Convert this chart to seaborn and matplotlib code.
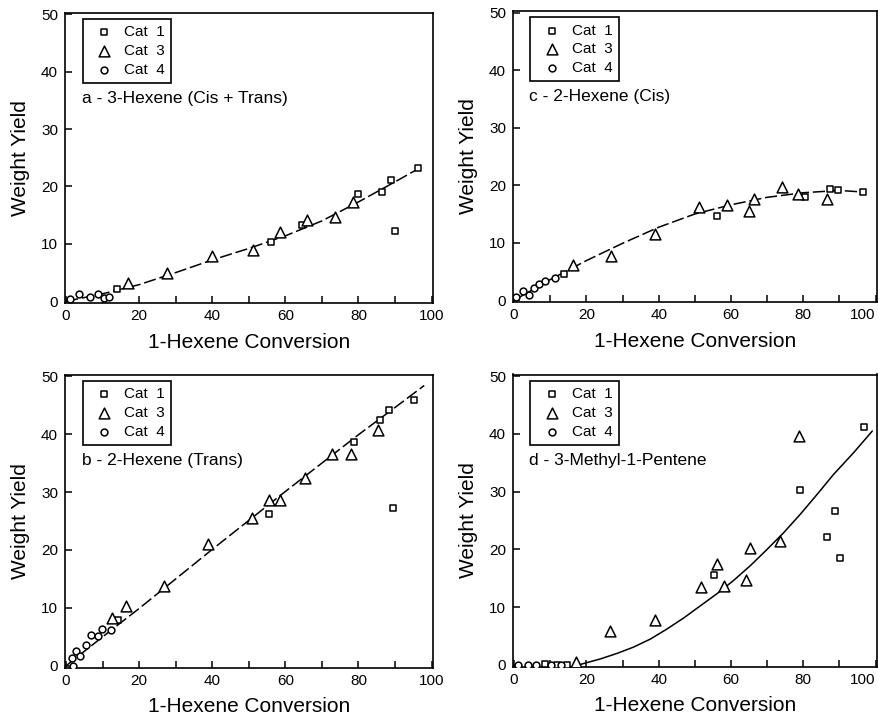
import matplotlib
matplotlib.use("Agg")
import matplotlib.pyplot as plt
import pandas as pd
import seaborn as sns

# ---- data ----
# a - 3-Hexene (Cis + Trans)
a_cat1_x = [14.0, 56.0, 64.5, 79.8, 86.4, 89.0, 90.0, 96.2]
a_cat1_y = [2.1, 10.3, 13.2, 18.6, 19.1, 21.2, 12.3, 23.2]
a_cat3_x = [17.0, 27.5, 39.8, 51.1, 58.4, 65.9, 73.7, 78.4]
a_cat3_y = [3.1, 5.0, 7.8, 9.0, 12.0, 14.1, 14.7, 17.3]
a_cat4_x = [1.1, 3.6, 6.6, 8.7, 10.5, 11.8]
a_cat4_y = [0.4, 1.2, 0.75, 1.3, 0.5, 0.7]
a_fit_x = [0, 10, 20, 30, 40, 50, 60, 70, 80, 90, 97]
a_fit_y = [0, 1.3, 2.9, 5.0, 7.2, 9.2, 11.4, 14.0, 17.3, 20.8, 23.3]

# b - 2-Hexene (Trans)
b_cat1_x = [14.1, 55.4, 78.9, 85.9, 88.3, 89.5, 95.3]
b_cat1_y = [7.9, 26.2, 38.7, 42.4, 44.1, 27.2, 45.9]
b_cat3_x = [12.6, 16.3, 26.8, 38.9, 50.9, 55.5, 58.4, 65.3, 72.8, 78.0, 85.3]
b_cat3_y = [8.2, 10.3, 13.7, 21.0, 25.6, 28.6, 28.6, 32.5, 36.5, 36.5, 40.8]
b_cat4_x = [1.5, 2.0, 2.7, 3.8, 5.5, 6.7, 8.6, 9.7, 12.2]
b_cat4_y = [1.4, 0.0, 2.5, 1.7, 3.6, 5.3, 5.1, 6.3, 6.1]
b_fit_x = [0, 10, 20, 30, 40, 50, 60, 70, 80, 90, 98]
b_fit_y = [0, 5.0, 9.9, 15.0, 20.1, 25.1, 30.1, 35.0, 39.9, 44.6, 48.4]

# c - 2-Hexene (Cis)
c_cat1_x = [13.9, 56.0, 80.6, 87.3, 89.6, 96.6]
c_cat1_y = [4.5, 14.7, 17.9, 19.4, 19.1, 18.8]
c_cat3_x = [16.3, 26.9, 39.1, 51.1, 58.9, 64.9, 66.3, 74.1, 78.5, 86.6]
c_cat3_y = [6.2, 7.7, 11.6, 16.3, 16.5, 15.6, 17.6, 19.7, 18.4, 17.6]
c_cat4_x = [0.6, 2.4, 4.0, 5.4, 7.0, 8.6, 11.4]
c_cat4_y = [0.6, 1.6, 1.0, 2.2, 2.9, 3.3, 3.9]
c_fit_x = [0, 10, 20, 30, 40, 50, 60, 70, 80, 90, 97]
c_fit_y = [0, 3.6, 6.9, 9.9, 12.7, 15.0, 16.6, 17.9, 18.7, 19.1, 18.8]

# d - 3-Methyl-1-Pentene
d_cat1_x = [8.5, 11.8, 14.6, 55.2, 79.0, 86.6, 88.9, 90.3, 96.8]
d_cat1_y = [0.1, 0.0, 0.0, 15.5, 30.3, 22.2, 26.7, 18.5, 41.2]
d_cat3_x = [17.2, 26.6, 38.9, 51.8, 56.1, 58.2, 64.2, 65.2, 73.5, 78.8]
d_cat3_y = [0.4, 5.9, 7.75, 13.5, 17.4, 13.7, 14.7, 20.2, 21.4, 39.7]
d_cat4_x = [1.2, 3.8, 6.1, 10.2, 13.0]
d_cat4_y = [0.0, 0.0, 0.0, 0.0, 0.0]
d_fit_x = [18, 23.8, 28.4, 33.0, 37.7, 42.3, 46.9, 51.5, 56.1, 60.7, 65.4, 70.0,
           74.6, 79.2, 83.8, 88.4, 94.0, 99.1]
d_fit_y = [0, 1.0, 1.95, 3.05, 4.45, 6.2, 8.1, 10.2, 12.3, 14.6, 17.2, 20.0,
           22.9, 26.1, 29.5, 33.0, 36.8, 40.5]

x_ticks = [0, 20, 40, 60, 80, 100]
x_minor = [10, 30, 50, 70, 90]
y_ticks = [0, 10, 20, 30, 40, 50]

cat_labels = ["Cat  1", "Cat  3", "Cat  4"]
cat_markers = {"Cat  1": "s", "Cat  3": "^", "Cat  4": "o"}
cat_sizes = {"Cat  1": 24, "Cat  3": 60, "Cat  4": 24}

panels = [
    ("a - 3-Hexene (Cis + Trans)", [(a_cat1_x, a_cat1_y), (a_cat3_x, a_cat3_y), (a_cat4_x, a_cat4_y)],
     a_fit_x, a_fit_y, True),
    ("c - 2-Hexene (Cis)", [(c_cat1_x, c_cat1_y), (c_cat3_x, c_cat3_y), (c_cat4_x, c_cat4_y)],
     c_fit_x, c_fit_y, True),
    ("b - 2-Hexene (Trans)", [(b_cat1_x, b_cat1_y), (b_cat3_x, b_cat3_y), (b_cat4_x, b_cat4_y)],
     b_fit_x, b_fit_y, True),
    ("d - 3-Methyl-1-Pentene", [(d_cat1_x, d_cat1_y), (d_cat3_x, d_cat3_y), (d_cat4_x, d_cat4_y)],
     d_fit_x, d_fit_y, False),
]

sns.set_theme(style="ticks")
plt.rcParams['font.family'] = ['Liberation Sans', 'DejaVu Sans']
plt.rcParams['text.color'] = 'black'
plt.rcParams['axes.labelcolor'] = 'black'

W, H = 879, 718
fig = plt.figure(figsize=(W / 100, H / 100), dpi=100)

# axes boxes in pixels: left, top, width, height
boxes = [(65, 12.5, 368, 290.5), (513, 11, 364, 291),
         (65, 374.5, 368, 293), (513, 374.5, 364, 292)]

for i, ((title, cats, fit_x, fit_y, dashed), (l, t, w, h)) in enumerate(zip(panels, boxes)):
    ax = fig.add_axes([l / W, (H - t - h) / H, w / W, h / H])

    ls = (0, (8, 2.5)) if dashed else "-"
    sns.lineplot(x=fit_x, y=fit_y, color="black", lw=1.1, linestyle=ls, ax=ax, zorder=2)

    for lab, (xs, ys) in zip(cat_labels, cats):
        df = pd.DataFrame({"conv": xs, "yield": ys})
        sns.scatterplot(data=df, x="conv", y="yield", marker=cat_markers[lab], s=cat_sizes[lab],
                        color="white", edgecolor="black", linewidth=1.1, label=lab, ax=ax, zorder=3)

    ax.set_xlim(-0.3, 100.4)
    ax.set_ylim(-0.3, 50.3)
    ax.set_xticks(x_ticks)
    ax.set_xticks(x_minor, minor=True)
    ax.set_yticks(y_ticks)
    ax.tick_params(axis="both", which="both", direction="in", length=5, width=1.1,
                   labelsize=11, color="black", labelcolor="black")
    ax.tick_params(axis="x", pad=4.5)
    ax.tick_params(axis="y", pad=5)
    for sp in ax.spines.values():
        sp.set_visible(True)
        sp.set_linewidth(1.2)
        sp.set_color("black")

    # right-hand panels run to the page edge, keep "100" inside
    if i % 2 == 1:
        ax.get_xticklabels()[-1].set_horizontalalignment("right")

    ax.set_xlabel("1-Hexene Conversion", fontsize=15, labelpad=7)
    ax.set_ylabel("Weight Yield", fontsize=15, labelpad=8)

    ax.text(0.045, 0.705, title, transform=ax.transAxes, fontsize=12.5, va="center")

    leg = ax.legend(loc="upper left", bbox_to_anchor=(0.048, 0.978), borderaxespad=0,
                    frameon=True, fancybox=False, edgecolor="black", framealpha=1,
                    fontsize=11, handlelength=2.0, handletextpad=0.3, borderpad=0.4,
                    labelspacing=0.32)
    leg.get_frame().set_linewidth(1.2)

fig.savefig("out.png", dpi=100)
